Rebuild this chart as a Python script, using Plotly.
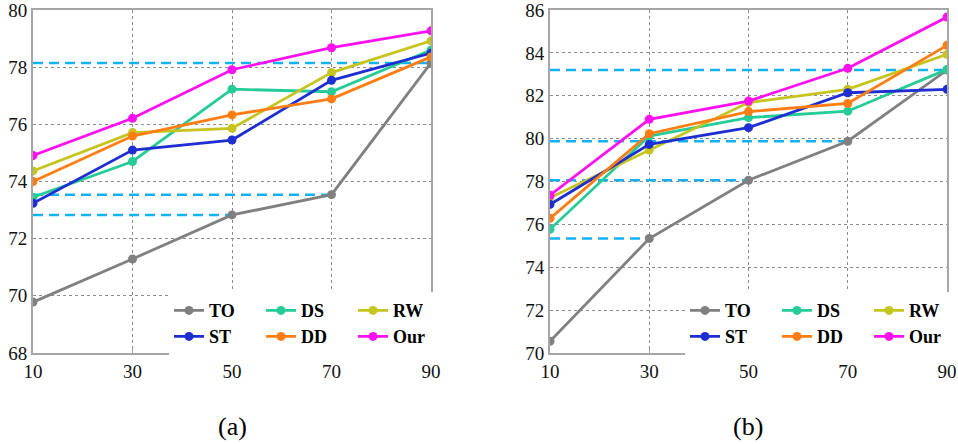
import plotly.graph_objects as go

# Shared x positions
x_vals = [10, 30, 50, 70, 90]
tick_vals = [10, 30, 50, 70, 90]

# Series of panel (a)
a_TO = [69.78, 71.29, 72.83, 73.54, 78.15]
a_ST = [73.24, 75.10, 75.45, 77.54, 78.49]
a_DS = [73.45, 74.70, 77.23, 77.14, 78.60]
a_DD = [74.00, 75.59, 76.33, 76.89, 78.36]
a_RW = [74.37, 75.71, 75.86, 77.81, 78.92]
a_Our = [74.91, 76.21, 77.91, 78.68, 79.27]
a_ref_idx = [2, 3, 4]          # TO points with a horizontal reference line

# Series of panel (b)
b_TO = [70.55, 75.34, 78.06, 79.88, 83.20]
b_ST = [76.93, 79.73, 80.51, 82.14, 82.30]
b_DS = [75.77, 80.12, 80.98, 81.28, 83.23]
b_DD = [76.28, 80.23, 81.26, 81.64, 84.35]
b_RW = [77.24, 79.47, 81.68, 82.30, 83.93]
b_Our = [77.36, 80.90, 81.75, 83.28, 85.67]
b_ref_idx = [1, 2, 3, 4]

colors = {"TO": "#808080", "ST": "#1f2ed0", "DS": "#26cc98",
          "DD": "#ff7d12", "RW": "#c6c41e", "Our": "#ff10f0"}
# legend rows: first row TO, DS, RW; second row ST, DD, Our
row_of = {"TO": 0, "DS": 0, "RW": 0, "ST": 1, "DD": 1, "Our": 1}

SERIF = "Liberation Serif"
W, H = 958, 444

fig = go.Figure()

panels = [
    ("x", "y", {"TO": a_TO, "ST": a_ST, "DS": a_DS, "DD": a_DD, "RW": a_RW, "Our": a_Our},
     a_ref_idx, ["legend", "legend2"]),
    ("x2", "y2", {"TO": b_TO, "ST": b_ST, "DS": b_DS, "DD": b_DD, "RW": b_RW, "Our": b_Our},
     b_ref_idx, ["legend3", "legend4"]),
]

for xa, ya, series, ref_idx, legs in panels:
    # dashed reference lines from the y axis to selected TO points
    for i in ref_idx:
        fig.add_trace(go.Scatter(
            x=[x_vals[0], x_vals[i]], y=[series["TO"][i], series["TO"][i]],
            mode="lines", line=dict(color="#14b2f2", width=2.5, dash="10px,6px"),
            showlegend=False, hoverinfo="skip", xaxis=xa, yaxis=ya))
    order = ["TO", "DS", "RW", "ST", "DD", "Our"]
    for n in order:
        fig.add_trace(go.Scatter(
            x=x_vals, y=series[n], name=n, mode="lines+markers",
            line=dict(color=colors[n], width=2.8),
            marker=dict(color=colors[n], size=9),
            legend=legs[row_of[n]], xaxis=xa, yaxis=ya))

y_dom = [(H - 353) / H, (H - 10) / H]
axis_common = dict(
    showline=True, linecolor="#a6a6a6", linewidth=2, mirror=True,
    showgrid=True, gridcolor="#8c8c8c", gridwidth=1, griddash="dot",
    zeroline=False, automargin=False, ticklabeloverflow="allow",
    tickfont=dict(family=SERIF, size=19, color="#111"),
)

fig.update_layout(
    width=W, height=H, template="none",
    margin=dict(l=0, r=0, t=0, b=0, autoexpand=False),
    paper_bgcolor="white", plot_bgcolor="white",
    xaxis=dict(domain=[33 / W, 431 / W], range=[10, 90], tickvals=tick_vals,
               ticks="inside", ticklen=4, tickcolor="#a6a6a6", anchor="y", **axis_common),
    yaxis=dict(domain=y_dom, range=[68, 80], dtick=2, ticks="", anchor="x", **axis_common),
    xaxis2=dict(domain=[550 / W, 947 / W], range=[10, 90], tickvals=tick_vals,
                ticks="inside", ticklen=4, tickcolor="#a6a6a6", anchor="y2", **axis_common),
    yaxis2=dict(domain=y_dom, range=[70, 86], dtick=2, ticks="", anchor="x2", **axis_common),
)

legend_common = dict(
    orientation="h", entrywidth=47, entrywidthmode="pixels",
    bgcolor="white", borderwidth=0, yanchor="middle", xanchor="left",
    font=dict(family=SERIF, size=18, color="black", weight="bold"),
    itemclick=False, itemdoubleclick=False,
)
fig.update_layout(
    legend=dict(x=169 / W, y=(H - 310.7) / H, **legend_common),
    legend2=dict(x=169 / W, y=(H - 336.7) / H, **legend_common),
    legend3=dict(x=685 / W, y=(H - 310.7) / H, **legend_common),
    legend4=dict(x=685 / W, y=(H - 336.7) / H, **legend_common),
)

for label, cx in [("(a)", 232), ("(b)", 748)]:
    fig.add_annotation(text=label, x=cx / W, y=(H - 426) / H, xref="paper", yref="paper",
                       xanchor="center", yanchor="middle", showarrow=False,
                       font=dict(family=SERIF, size=26, color="black"))

fig.write_html("out.html")
